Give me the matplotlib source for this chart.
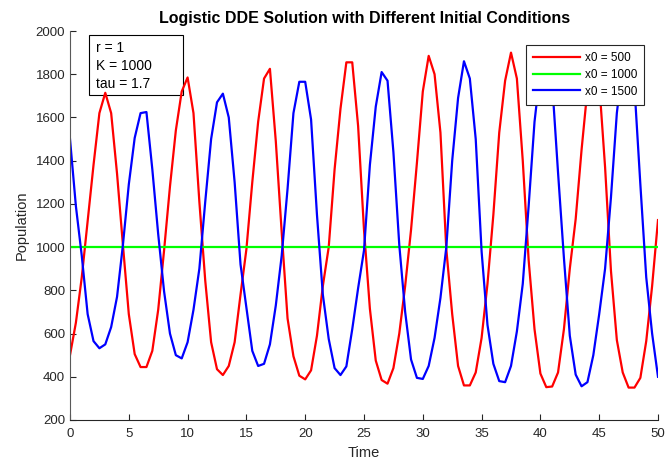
import numpy as np
import matplotlib
matplotlib.use('Agg')
import matplotlib.pyplot as plt
from matplotlib.patches import Rectangle

plt.rcParams['font.family'] = ['Liberation Sans', 'DejaVu Sans']

# time grid (step 0.5) and values
t = np.arange(0, 50.01, 0.5)

x0_500 = [500, 650, 860, 1120, 1380, 1620, 1714, 1620, 1340, 1010,
          690, 505, 445, 445, 520, 710, 985, 1280, 1540, 1720,
          1785, 1620, 1210, 845, 560, 435, 408, 450, 560, 780,
          990, 1300, 1580, 1780, 1825, 1490, 1070, 670, 495, 405,
          388, 430, 590, 820, 1000, 1360, 1640, 1855, 1855, 1560,
          1080, 715, 475, 385, 368, 440, 600, 820, 1080, 1390,
          1720, 1885, 1800, 1530, 990, 690, 450, 360, 360, 420,
          580, 830, 1150, 1530, 1770, 1900, 1780, 1400, 940, 620,
          415, 352, 355, 420, 620, 900, 1130, 1450, 1730, 1905,
          1760, 1370, 890, 570, 420, 350, 350, 395, 565, 820,
          1125]

x0_1500 = [1500, 1190, 960, 690, 565, 532, 550, 630, 770, 1010,
           1290, 1505, 1620, 1625, 1360, 1060, 795, 600, 500, 485,
           560, 710, 900, 1210, 1500, 1670, 1710, 1600, 1300, 920,
           720, 520, 450, 460, 550, 730, 960, 1270, 1620, 1765,
           1765, 1590, 1150, 780, 575, 440, 408, 448, 620, 810,
           985, 1380, 1650, 1810, 1770, 1440, 1010, 700, 480, 395,
           390, 450, 580, 765, 1000, 1400, 1690, 1860, 1780, 1500,
           980, 640, 460, 380, 375, 450, 610, 830, 1190, 1580,
           1820, 1890, 1760, 1345, 950, 590, 410, 356, 375, 500,
           690, 900, 1230, 1620, 1850, 1890, 1740, 1290, 860, 600,
           400]

x0_1000 = np.full(len(t), 1000.0)

labels = ['x0 = 500', 'x0 = 1000', 'x0 = 1500']
params = ['r = 1', 'K = 1000', 'tau = 1.7']

W, H = 665, 466
fig = plt.figure(figsize=(W/100, H/100), dpi=100)
ax = fig.add_axes([70/W, 1-420/H, (658-70)/W, (420-31)/H])

# parameter box (upper left), drawn under the curves
ax.add_patch(Rectangle((89/W, 1-95/H), (183-89)/W, (95-35)/H,
                       transform=fig.transFigure, fc='white', ec='black',
                       lw=0.8, zorder=0.5, clip_on=False))
for i, s in enumerate(params):
    fig.text(96/W, 1-(48+18*i)/H, s, ha='left', va='center', fontsize=10)

ax.plot(t, x0_500, color=(1, 0, 0), lw=1.6, label=labels[0])
ax.plot(t, x0_1000, color=(0, 1, 0), lw=1.6, label=labels[1])
ax.plot(t, x0_1500, color=(0, 0, 1), lw=1.6, label=labels[2])

ax.set_xlim(0, 50)
ax.set_ylim(200, 2000)
ax.set_xticks(np.arange(0, 51, 5))
ax.set_yticks(np.arange(200, 2001, 200))
ax.tick_params(direction='in', length=4, labelsize=9.5, colors='0.15', width=0.8)
ax.tick_params(axis='x', pad=6)
ax.spines['top'].set_visible(False)
ax.spines['right'].set_visible(False)
ax.spines['left'].set_color('0.35')
ax.spines['bottom'].set_color('0.15')

ax.set_xlabel('Time', fontsize=10.5, color='0.15', labelpad=4)
ax.set_ylabel('Population', fontsize=10.5, color='0.15', labelpad=5)
fig.text(365/W, 1-18/H, 'Logistic DDE Solution with Different Initial Conditions',
         ha='center', va='center', fontsize=11.5, fontweight='bold')

leg = ax.legend(loc='upper right', bbox_to_anchor=(644/W, 1-45/H),
                bbox_transform=fig.transFigure, fontsize=8.5, frameon=True,
                fancybox=False, edgecolor='0.15', framealpha=1,
                handlelength=4.0, handletextpad=0.35, labelspacing=0.4,
                borderpad=0.6, borderaxespad=0)
leg.get_frame().set_linewidth(0.8)

fig.savefig('out.png', dpi=100)
